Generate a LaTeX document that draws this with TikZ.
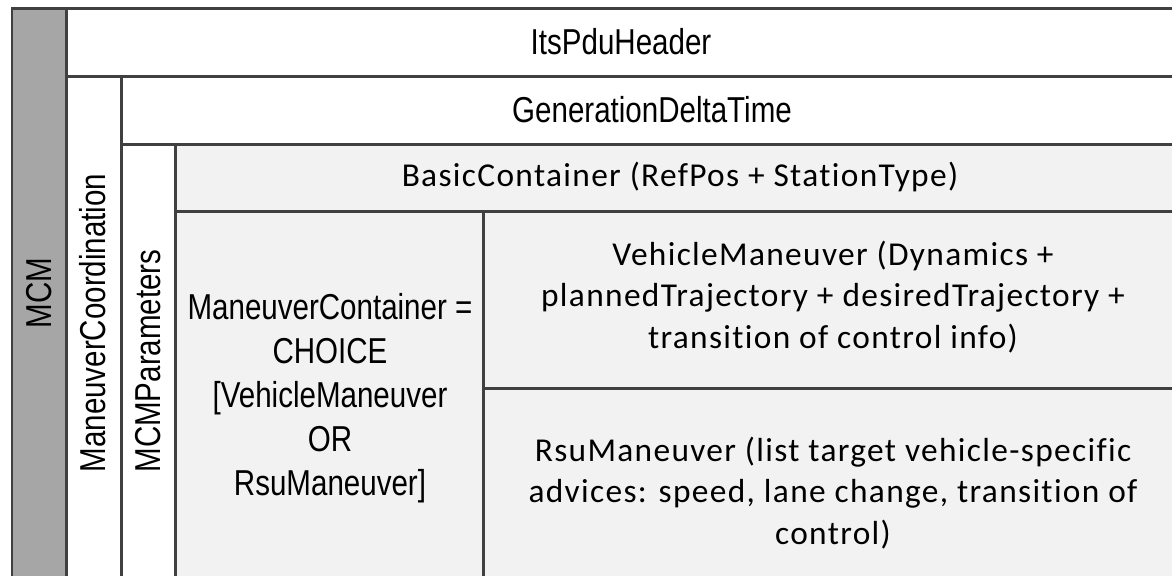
\documentclass[tikz,border=0pt]{standalone}
\usepackage{fontspec}
\newfontfamily\narrowsans[FakeStretch=0.82]{Liberation Sans}
\newfontfamily\bodysans[LetterSpace=4, Ligatures=NoCommon]{Carlito}
\definecolor{edgegray}{HTML}{404040}
\definecolor{mcmgray}{HTML}{A6A6A6}
\definecolor{fieldgray}{HTML}{F2F2F2}

\begin{document}
\begin{tikzpicture}[x=0.02cm, y=-0.02cm,
    cell/.style={draw=edgegray, line width=0.06cm},
    hdrtext/.style={font=\narrowsans\fontsize{20.5}{25}\selectfont, align=center, inner sep=0pt},
    fieldtext/.style={font=\bodysans\fontsize{19}{23.8}\selectfont, align=center, inner sep=0pt}]
  \useasboundingbox (0, 0) rectangle (1172, 575);
  \clip (0, 0) rectangle (1172, 575);

  % Message frame
  \draw[cell, fill=mcmgray] (12, 8) rectangle (66, 600);
  \draw[cell, fill=white] (66, 8) rectangle (1190, 76);
  \draw[cell, fill=white] (66, 76) rectangle (121, 600);
  \draw[cell, fill=white] (121, 76) rectangle (1190, 144);
  \draw[cell, fill=white] (121, 144) rectangle (175, 600);

  % Containers
  \draw[cell, fill=fieldgray] (175, 144) rectangle (1190, 211);
  \draw[cell, fill=fieldgray] (175, 211) rectangle (483, 600);
  \draw[cell, fill=fieldgray] (483, 211) rectangle (1190, 388);
  \draw[cell, fill=fieldgray] (483, 388) rectangle (1190, 600);

  % Labels
  \node[hdrtext, rotate=90] (mcm) at (39, 293) {MCM};
  \node[hdrtext, rotate=90] (coord) at (93, 323) {ManeuverCoordination};
  \node[hdrtext, rotate=90] (params) at (148, 361) {MCMParameters};
  \node[hdrtext] (pduhdr) at (621, 42) {ItsPduHeader};
  \node[hdrtext] (gdt) at (652, 110) {GenerationDeltaTime};
  \node[fieldtext] (basic) at (680, 177) {BasicContainer (RefPos + StationType)};
  \node[hdrtext] (choice) at (330, 398) {ManeuverContainer =\\CHOICE\\{}[VehicleManeuver\\OR\\RsuManeuver]};
  \node[fieldtext] (vehman) at (833, 297) {VehicleManeuver (Dynamics +\\plannedTrajectory + desiredTrajectory +\\transition of control info)};
  \node[fieldtext] (rsuman) at (833, 493) {RsuManeuver (list target vehicle-specific\\advices: speed, lane change, transition of\\control)};
\end{tikzpicture}
\end{document}
